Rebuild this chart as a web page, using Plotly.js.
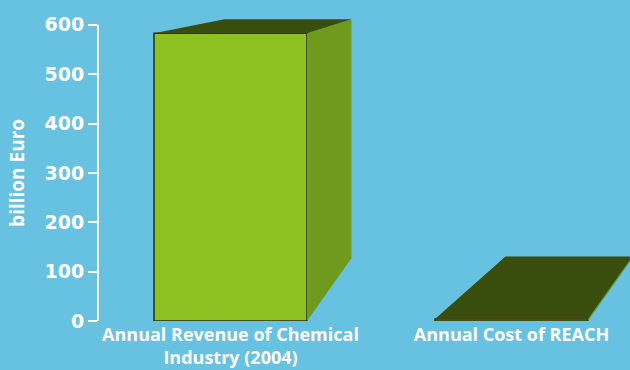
<!DOCTYPE html>
<html>
<head>
<meta charset="utf-8">
<script src="https://cdn.plot.ly/plotly-3.0.1.min.js"></script>
<style>html,body{margin:0;padding:0;background:#66C2E0;}#chart{width:630px;height:370px;}</style>
</head>
<body>
<div id="chart"></div>
<script>
// ---- data ----
const categories = ["Annual Revenue of Chemical<br>Industry (2004)", "Annual Cost of REACH"];
const values = [583, 4];
const yTickValues = [0, 100, 200, 300, 400, 500, 600];
const yTickLabels = ["0", "100", "200", "300", "400", "500", "600"];
const yTitle = "billion Euro";

// ---- styling / 3D projection parameters ----
const barWidth = 0.5445;
const vpDx = 1.203;   // vanishing point x offset from bar centre (axis units)
const vpY = 749;      // vanishing point height (axis units)
const depthScale = 0.83;
const colFront = "#8DC122", colSide = "#6F9A1B", colTop = "#394E0C", colEdge = "#2A2D12";

const xs = categories.map((c, i) => i);
const traces = [];
values.forEach((v, i) => {
  const c = xs[i], hw = barWidth / 2, L = c - hw, R = c + hw;
  const vx = c + vpDx;
  const back = (x, y) => [vx + depthScale * (x - vx), vpY + depthScale * (y - vpY)];
  const bRT = back(R, v), bLT = back(L, v), bR0 = back(R, 0);
  traces.push({type: "scatter", mode: "none", fill: "toself", fillcolor: colSide,
    x: [R, R, bRT[0], bR0[0], R], y: [0, v, bRT[1], bR0[1], 0], hoverinfo: "skip", showlegend: false});
  traces.push({type: "scatter", mode: "none", fill: "toself", fillcolor: colTop,
    x: [L, R, bRT[0], bLT[0], L], y: [v, v, bRT[1], bLT[1], v], hoverinfo: "skip", showlegend: false});
});
traces.push({type: "bar", x: xs, y: values, width: barWidth,
  marker: {color: colFront, line: {color: colEdge, width: 1.5}}, hoverinfo: "skip", showlegend: false});

const white = "#FFFFFF";
const layout = {
  width: 630, height: 370,
  paper_bgcolor: "#66C2E0", plot_bgcolor: "#66C2E0",
  margin: {l: 98, r: 0, t: 5, b: 49},
  barmode: "overlay",
  xaxis: {range: [-0.4715, 1.4217], tickvals: xs, ticktext: categories, showgrid: false, zeroline: false,
    showline: false, ticks: "", ticklabelstandoff: 1,
    tickfont: {family: "Open Sans", size: 18, color: white, weight: 700}, fixedrange: true},
  yaxis: {range: [0, 640], tickvals: yTickValues, ticktext: yTickLabels, showgrid: false, zeroline: false,
    showline: false, ticks: "outside", ticklen: 9, tickwidth: 2, tickcolor: white,
    tickfont: {family: "DejaVu Sans", size: 19, color: white, weight: 700}},
  annotations: [{text: yTitle, xref: "paper", x: 0, xanchor: "center", xshift: -81,
    yref: "y", y: 300, yanchor: "middle", textangle: -90, showarrow: false,
    font: {family: "Open Sans", size: 19, color: white, weight: 700}}],
  shapes: [{type: "line", xref: "paper", x0: 0, x1: 0, yref: "y", y0: 0, y1: 600, line: {color: white, width: 2}}]
};
Plotly.newPlot("chart", traces, layout, {displayModeBar: false, staticPlot: true});
</script>
</body>
</html>
